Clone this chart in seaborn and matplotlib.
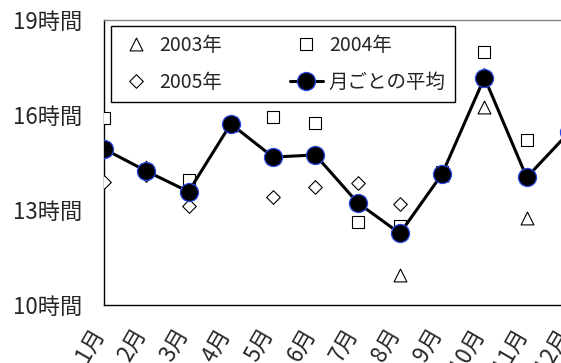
import matplotlib
matplotlib.use("Agg")
import matplotlib.pyplot as plt
import matplotlib.transforms as mtransforms
import seaborn as sns
import pandas as pd

# monthly daylight hours
months = ["1月", "2月", "3月", "4月", "5月", "6月", "7月", "8月", "9月", "10月", "11月", "12月"]
y2003 = [14.99, 14.35, 13.60, 15.70, 14.67, 14.74, 13.23, 10.95, 14.10, 16.26, 12.74, 15.30]
y2004 = [15.90, 14.25, 13.95, 15.75, 15.94, 15.76, 12.61, 12.49, 14.20, 18.00, 15.21, 15.60]
y2005 = [13.90, 14.10, 13.14, 15.70, 13.40, 13.72, 13.85, 13.19, 14.12, 17.25, 14.08, 15.45]
monthly_avg = [14.93, 14.23, 13.58, 15.72, 14.67, 14.74, 13.23, 12.26, 14.14, 17.18, 14.03, 15.45]
ytick_values = [10, 13, 16, 19]
ytick_labels = ["10時間", "13時間", "16時間", "19時間"]

sns.set_style("white")
plt.rcParams["font.family"] = ["Noto Sans CJK JP", "DejaVu Sans"]

pos = list(range(len(months)))
df = pd.DataFrame({"pos": pos, "y2003": y2003, "y2004": y2004,
                   "y2005": y2005, "avg": monthly_avg})

fig = plt.figure(figsize=(5.61, 3.63), dpi=100)
ax = fig.add_axes([104 / 561, 58 / 363, 465 / 561, 285 / 363])

open_kw = dict(facecolor="white", edgecolor="black", linewidth=0.8, zorder=3)
sns.scatterplot(data=df, x="pos", y="y2003", marker="^", s=85, label="2003年", ax=ax, **open_kw)
sns.scatterplot(data=df, x="pos", y="y2004", marker="s", s=70, label="2004年", ax=ax, **open_kw)
sns.scatterplot(data=df, x="pos", y="y2005", marker="D", s=48, label="2005年", ax=ax, **open_kw)
sns.lineplot(data=df, x="pos", y="avg", color="black", linewidth=2.2, marker="o",
             markersize=13, markerfacecolor="black", markeredgecolor="#2a48e8",
             markeredgewidth=0.9, label="月ごとの平均", ax=ax, zorder=4)

ax.set_xlim(0, 11)
ax.set_ylim(10, 19)
ax.set_xticks(pos)
ax.set_xticklabels(months, rotation=60, ha="right", va="top", fontsize=16)
ax.set_yticks(ytick_values)
ax.set_yticklabels(ytick_labels, fontsize=16)
ax.set_xlabel("")
ax.set_ylabel("")
ax.tick_params(axis="x", direction="in", length=6, width=1, color="black", pad=14)
ax.tick_params(axis="y", direction="in", length=6, width=1, color="black", pad=16)

shift = mtransforms.ScaledTranslation(5 / 100, 0, fig.dpi_scale_trans)
for lbl in ax.get_xticklabels():
    lbl.set_transform(lbl.get_transform() + shift)

for side in ("left", "bottom"):
    ax.spines[side].set_color("black")
    ax.spines[side].set_linewidth(1.0)
ax.spines["top"].set_color("#808080")
ax.spines["top"].set_linewidth(1.0)
ax.spines["right"].set_visible(False)

h, l = ax.get_legend_handles_labels()
order = [0, 2, 1, 3]
leg = ax.legend([h[i] for i in order], [l[i] for i in order], ncol=2,
                loc="upper left", bbox_to_anchor=(111 / 561, 1 - 26 / 363),
                bbox_transform=fig.transFigure, fontsize=14, frameon=True,
                fancybox=False, edgecolor="black", framealpha=1,
                handlelength=1.7, handletextpad=0.31, columnspacing=3.5,
                labelspacing=0.84, borderpad=0.45, borderaxespad=0,
                scatterpoints=1, scatteryoffsets=[0.5])
leg.get_frame().set_linewidth(1.0)

fig.savefig("out.png", dpi=100)
